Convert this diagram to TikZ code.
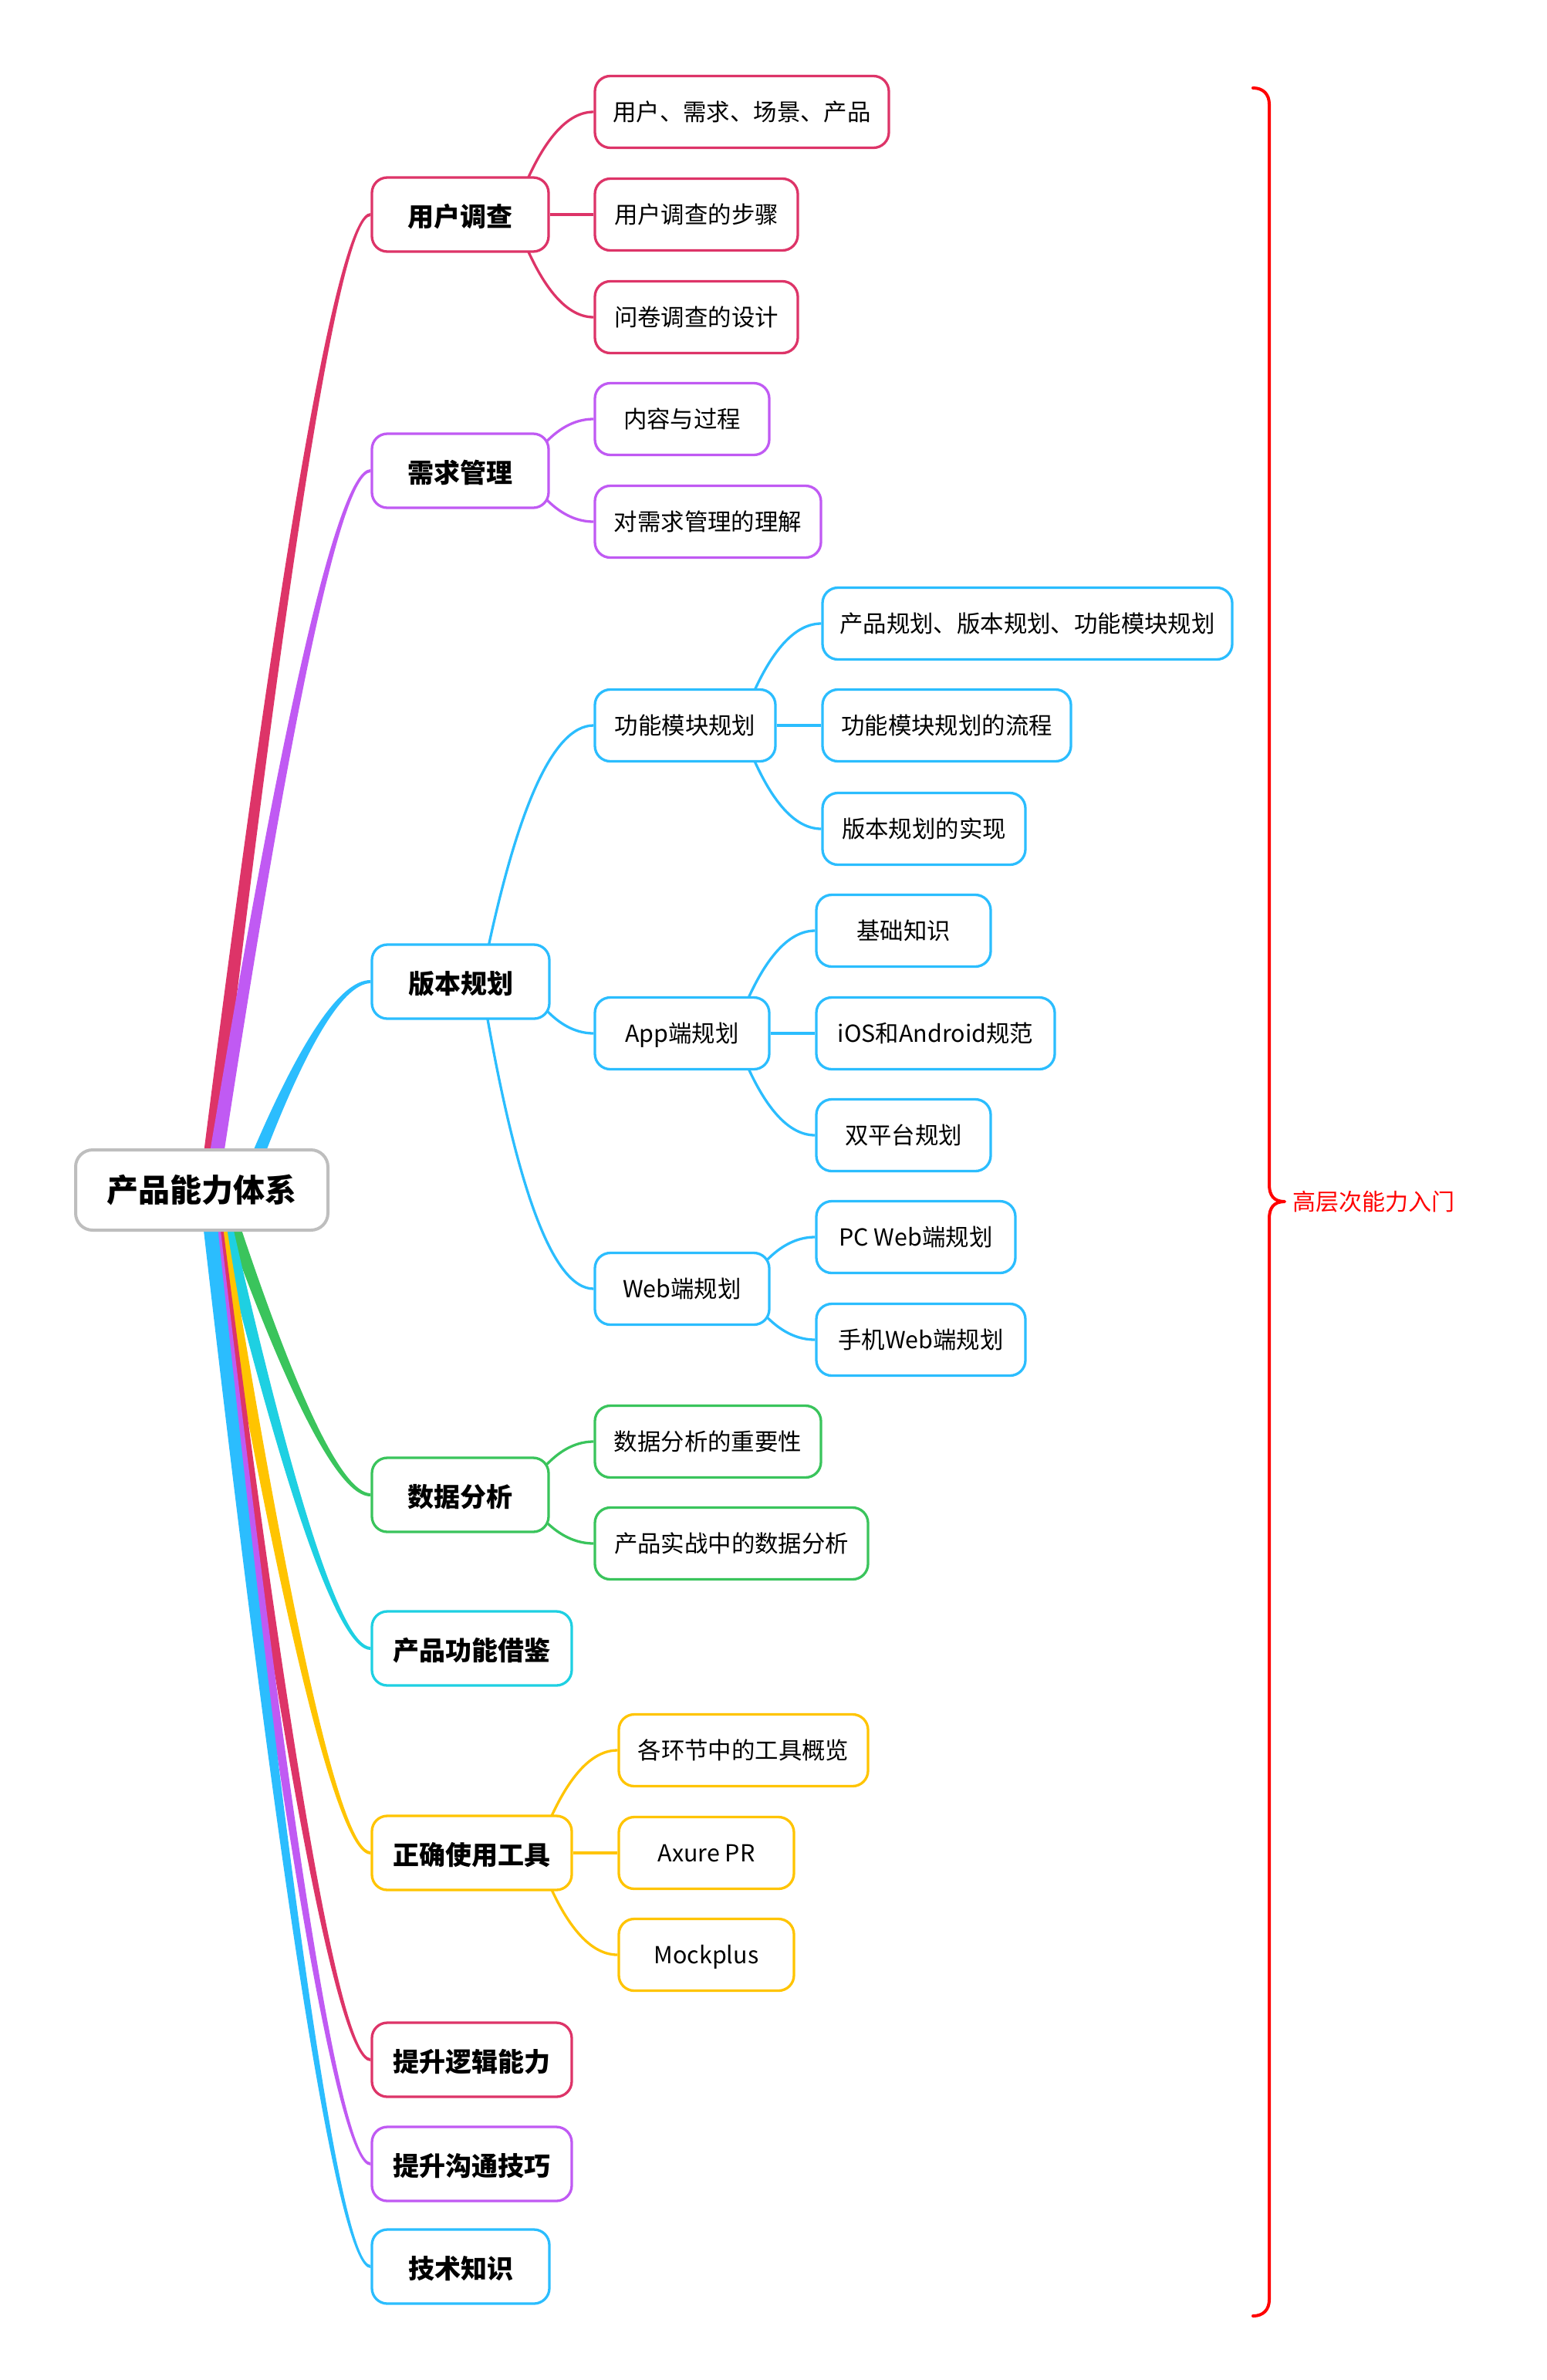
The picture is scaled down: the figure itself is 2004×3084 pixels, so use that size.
\documentclass[tikz,border=0pt]{standalone}
\usepackage{fontspec}
\setmainfont{Noto Sans CJK SC}
\usetikzlibrary{calc}
\definecolor{cRed}{HTML}{DD3468}
\definecolor{cPurple}{HTML}{C05AF3}
\definecolor{cBlue}{HTML}{2BBDFE}
\definecolor{cGreen}{HTML}{3AC45C}
\definecolor{cCyan}{HTML}{1ED0E2}
\definecolor{cOrange}{HTML}{FFC400}
\definecolor{cGray}{HTML}{BEBEBE}
\definecolor{cBrace}{HTML}{FF0000}
\pgfdeclarelayer{bg}
\pgfsetlayers{bg,main}
\tikzset{
  box/.style={draw, fill=white, line width=1.65pt, rounded corners=10pt, align=center, inner sep=0pt},
  rootbox/.style={box, draw=cGray, line width=2pt, rounded corners=11pt, minimum height=52pt, font=\fontsize{20.5}{24}\selectfont\bfseries, text height=1.62em, text depth=0.08em},
  topic/.style={box, minimum height=48pt, font=\fontsize{17}{20}\selectfont\bfseries, text height=1.6em, text depth=0.08em},
  subtopic/.style={box, minimum height=46.5pt, font=\fontsize{15.2}{18}\selectfont, text height=1.22em, text depth=0.08em},
  subline/.style={line width=1.65pt},
  bracelabel/.style={anchor=west, inner sep=0pt, text=cBrace, font=\fontsize{15}{18}\selectfont, text height=1.22em, text depth=0.08em},
}
% tapered branch from the root: color, child, start shift, sign (+1 up, -1 down)
\newcommand\rootbranch[4]{%
\fill[#1] let \p1=(root.center), \p2=(#2.west) in
 ({\x1+#3-4.75pt},\y1)
 .. controls ({\x1+#3-4.75pt+0.6667*(\x2-31.5pt-\x1-#3+4.75pt)},{\y1+0.6667*(\y2+(#4)*1.5pt-\y1)})
 and ({\x2-21pt},{\y2+(#4)*1.3333pt})
 .. (\x2,{\y2+(#4)*1pt})
 -- (\x2,{\y2-(#4)*1pt})
 .. controls ({\x2-19pt},{\y2-(#4)*1.3333pt})
 and ({\x1+#3+4.75pt+0.6667*(\x2-28.5pt-\x1-#3-4.75pt)},{\y1+0.6667*(\y2-(#4)*1.5pt-\y1)})
 .. ({\x1+#3+4.75pt},\y1) -- cycle;}
% curved branch between topics: color, parent, child, start offset from parent's east
\newcommand\subbranch[4]{%
\draw[#1,subline] let \p1=(#2.east), \p2=(#3.west) in
 ({\x1-#4},\y1) .. controls ({\x1-#4+0.3*(\x2-\x1+#4)},{\y1+0.6667*(\y2-\y1)})
 and ({\x2-0.3667*(\x2-\x1+#4)},\y2) .. (\x2,\y2);}
\newcommand\straightbranch[3]{\draw[#1,subline] (#2.east) -- (#3.west);}

\begin{document}
\begin{tikzpicture}[x=0.5pt,y=-0.5pt]
\useasboundingbox (0,0) rectangle (2004,3084);

% root
\node[rootbox, minimum width=163.5pt] (root) at (261.5,1542) {产品能力体系};

% main topics
\node[topic, draw=cRed, minimum width=114.5pt] (u1) at (596.5,278) {用户调查};
\node[topic, draw=cPurple, minimum width=114.5pt] (u2) at (596.5,610) {需求管理};
\node[topic, draw=cBlue, minimum width=115pt] (u3) at (597,1272) {版本规划};
\node[topic, draw=cGreen, minimum width=114.5pt] (u4) at (596.5,1937) {数据分析};
\node[topic, draw=cCyan, minimum width=129.5pt] (u5) at (611.5,2136) {产品功能借鉴};
\node[topic, draw=cOrange, minimum width=129.5pt] (u6) at (611.5,2401) {正确使用工具};
\node[topic, draw=cRed, minimum width=129.5pt] (u7) at (611.5,2669) {提升逻辑能力};
\node[topic, draw=cPurple, minimum width=129.5pt] (u8) at (611.5,2804) {提升沟通技巧};
\node[topic, draw=cBlue, minimum width=115pt] (u9) at (597,2937) {技术知识};

% subtopics
\node[subtopic, draw=cRed, minimum width=190.5pt] (a1) at (961.5,145) {用户、需求、场景、产品};
\node[subtopic, draw=cRed, minimum width=131.5pt] (a2) at (902.5,278) {用户调查的步骤};
\node[subtopic, draw=cRed, minimum width=131.5pt] (a3) at (902.5,411) {问卷调查的设计};

\node[subtopic, draw=cPurple, minimum width=113pt] (b1) at (884,543) {内容与过程};
\node[subtopic, draw=cPurple, minimum width=146.5pt] (b2) at (917.5,676) {对需求管理的理解};

\node[subtopic, draw=cBlue, minimum width=117pt] (c1) at (888,940) {功能模块规划};
\node[subtopic, draw=cBlue, minimum width=113pt] (c2) at (884,1339) {App端规划};
\node[subtopic, draw=cBlue, minimum width=113pt] (c3) at (884,1670) {Web端规划};

\node[subtopic, draw=cBlue, minimum width=265.5pt] (c11) at (1331.5,808) {产品规划、版本规划、功能模块规划};
\node[subtopic, draw=cBlue, minimum width=161pt] (c12) at (1227,940) {功能模块规划的流程};
\node[subtopic, draw=cBlue, minimum width=131.5pt] (c13) at (1197.5,1074) {版本规划的实现};

\node[subtopic, draw=cBlue, minimum width=113pt] (c21) at (1171,1206) {基础知识};
\node[subtopic, draw=cBlue, minimum width=154.5pt] (c22) at (1212.5,1339) {iOS和Android规范};
\node[subtopic, draw=cBlue, minimum width=113pt] (c23) at (1171,1471) {双平台规划};

\node[subtopic, draw=cBlue, minimum width=129pt] (c31) at (1187,1603) {PC Web端规划};
\node[subtopic, draw=cBlue, minimum width=135.5pt] (c32) at (1193.5,1736) {手机Web端规划};

\node[subtopic, draw=cGreen, minimum width=146.5pt] (d1) at (917.5,1868) {数据分析的重要性};
\node[subtopic, draw=cGreen, minimum width=177pt] (d2) at (948,2000) {产品实战中的数据分析};

\node[subtopic, draw=cOrange, minimum width=161.5pt] (f1) at (963.5,2268) {各环节中的工具概览};
\node[subtopic, draw=cOrange, minimum width=113.5pt] (f2) at (915.5,2401) {Axure PR};
\node[subtopic, draw=cOrange, minimum width=113.5pt] (f3) at (915.5,2533) {Mockplus};

% connectors
\begin{pgfonlayer}{bg}
\rootbranch{cRed}{u1}{3pt}{1}
\rootbranch{cPurple}{u2}{6pt}{1}
\rootbranch{cBlue}{u3}{27.5pt}{1}
\rootbranch{cGreen}{u4}{12.5pt}{-1}
\rootbranch{cCyan}{u5}{10pt}{-1}
\rootbranch{cOrange}{u6}{7.5pt}{-1}
\rootbranch{cRed}{u7}{6pt}{-1}
\rootbranch{cPurple}{u8}{4.5pt}{-1}
\rootbranch{cBlue}{u9}{3pt}{-1}

\subbranch{cRed}{u1}{a1}{23.5pt}
\straightbranch{cRed}{u1}{a2}
\subbranch{cRed}{u1}{a3}{23.5pt}

\subbranch{cPurple}{u2}{b1}{16.4pt}
\subbranch{cPurple}{u2}{b2}{16.4pt}

\subbranch{cBlue}{u3}{c1}{45pt}
\subbranch{cBlue}{u3}{c2}{16.4pt}
\subbranch{cBlue}{u3}{c3}{45pt}

\subbranch{cBlue}{c1}{c11}{23.5pt}
\straightbranch{cBlue}{c1}{c12}
\subbranch{cBlue}{c1}{c13}{23.5pt}

\subbranch{cBlue}{c2}{c21}{23.5pt}
\straightbranch{cBlue}{c2}{c22}
\subbranch{cBlue}{c2}{c23}{23.5pt}

\subbranch{cBlue}{c3}{c31}{16.4pt}
\subbranch{cBlue}{c3}{c32}{16.4pt}

\subbranch{cGreen}{u4}{d1}{16.4pt}
\subbranch{cGreen}{u4}{d2}{16.4pt}

\subbranch{cOrange}{u6}{f1}{23.5pt}
\straightbranch{cOrange}{u6}{f2}
\subbranch{cOrange}{u6}{f3}{23.5pt}
\end{pgfonlayer}

% summary brace
\draw[cBrace, line width=2pt, line cap=round, line join=round]
  (1624,114) .. controls (1637,114) and (1645,122) .. (1645,135)
  -- (1645,1535) .. controls (1645,1549) and (1651,1557) .. (1665,1557)
  .. controls (1651,1557) and (1645,1565) .. (1645,1579)
  -- (1645,2980) .. controls (1645,2993) and (1637,3001) .. (1624,3001);
\node[bracelabel] (summary) at (1675,1557) {高层次能力入门};
\end{tikzpicture}
\end{document}
